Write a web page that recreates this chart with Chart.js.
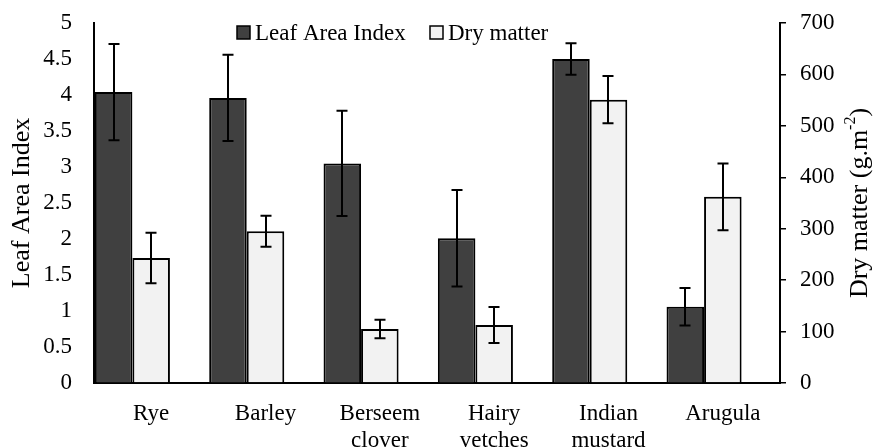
<!DOCTYPE html>
<html>
<head>
<meta charset="utf-8">
<script src="https://cdn.jsdelivr.net/npm/chart.js@4"></script>
<style>
html,body{margin:0;padding:0;background:#fff;}
#wrap{width:875px;height:448px;}
</style>
</head>
<body>
<div id="wrap"><canvas id="c" width="875" height="448"></canvas></div>
<script>
const categories = ['Rye', 'Barley', ['Berseem', 'clover'], ['Hairy', 'vetches'], ['Indian', 'mustard'], 'Arugula'];
const laiValues = [4.04, 3.96, 3.05, 2.01, 4.50, 1.06];
const laiErrors = [0.67, 0.60, 0.73, 0.67, 0.22, 0.26];
const dmValues = [243, 295, 105, 113, 551, 362];
const dmErrors = [49, 30, 18, 35, 46, 65];
const laiTicks = { min: 0, max: 5, step: 0.5 };
const dmTicks = { min: 0, max: 700, step: 100 };
const seriesNames = ['Leaf Area Index', 'Dry matter'];
const axisTitles = ['Leaf Area Index', 'Dry matter (g.m', '-2', ')'];

const FONT = "'Liberation Serif', 'Times New Roman', serif";
const errs = [laiErrors, dmErrors];

const errorBars = {
  id: 'errorBars',
  afterDatasetsDraw(chart) {
    const ctx = chart.ctx;
    ctx.save();
    ctx.strokeStyle = '#000';
    ctx.lineWidth = 2;
    [0, 1].forEach(di => {
      const ds = chart.data.datasets[di];
      const meta = chart.getDatasetMeta(di);
      const scale = chart.scales[ds.yAxisID];
      meta.data.forEach((el, j) => {
        const v = ds.data[j], e = errs[di][j];
        const x = Math.round(el.x);
        const yt = scale.getPixelForValue(v + e);
        const yb = scale.getPixelForValue(v - e);
        ctx.beginPath();
        ctx.moveTo(x, yt); ctx.lineTo(x, yb);
        ctx.moveTo(x - 5.5, yt); ctx.lineTo(x + 5.5, yt);
        ctx.moveTo(x - 5.5, yb); ctx.lineTo(x + 5.5, yb);
        ctx.stroke();
      });
    });
    ctx.restore();
  },
  afterDraw(chart) {
    const ctx = chart.ctx;
    const ca = chart.chartArea;
    ctx.save();
    const items = [
      { sx: 237, tx: 255, ds: chart.data.datasets[0] },
      { sx: 430, tx: 448, ds: chart.data.datasets[1] }
    ];
    ctx.font = '23px ' + FONT;
    ctx.textBaseline = 'alphabetic';
    ctx.textAlign = 'left';
    items.forEach(it => {
      ctx.fillStyle = it.ds.backgroundColor;
      ctx.fillRect(it.sx, 26, 13, 13);
      ctx.strokeStyle = '#000';
      ctx.lineWidth = 1.5;
      ctx.strokeRect(it.sx, 26, 13, 13);
      ctx.fillStyle = '#000';
      ctx.fillText(it.ds.label, it.tx, 39.5);
    });
    const cy = (ca.top + ca.bottom) / 2;
    ctx.fillStyle = '#000';
    ctx.font = '26px ' + FONT;
    ctx.save();
    ctx.translate(22, cy);
    ctx.rotate(-Math.PI / 2);
    ctx.textAlign = 'center';
    ctx.textBaseline = 'middle';
    ctx.fillText(axisTitles[0], 0, 0);
    ctx.restore();

    ctx.save();
    ctx.translate(860, cy);
    ctx.rotate(-Math.PI / 2);
    ctx.textBaseline = 'middle';
    ctx.textAlign = 'left';
    ctx.font = '26px ' + FONT;
    const w1 = ctx.measureText(axisTitles[1]).width;
    const w3 = ctx.measureText(axisTitles[3]).width;
    ctx.font = '16px ' + FONT;
    const w2 = ctx.measureText(axisTitles[2]).width;
    const total = w1 + w2 + w3;
    let x0 = -total / 2;
    ctx.font = '26px ' + FONT;
    ctx.fillText(axisTitles[1], x0, 0);
    ctx.font = '16px ' + FONT;
    ctx.fillText(axisTitles[2], x0 + w1, -9);
    ctx.font = '26px ' + FONT;
    ctx.fillText(axisTitles[3], x0 + w1 + w2, 0);
    ctx.restore();
    ctx.restore();
  }
};

new Chart(document.getElementById('c'), {
  type: 'bar',
  data: {
    labels: categories,
    datasets: [
      { label: seriesNames[0], data: laiValues, yAxisID: 'y', backgroundColor: '#404040', borderColor: '#000', borderWidth: 2 },
      { label: seriesNames[1], data: dmValues, yAxisID: 'y1', backgroundColor: '#F2F2F2', borderColor: '#000', borderWidth: 2 },
      { label: '', data: categories.map(() => null), yAxisID: 'y', backgroundColor: 'rgba(0,0,0,0)', borderWidth: 0 }
    ]
  },
  options: {
    responsive: false,
    animation: false,
    devicePixelRatio: 1,
    layout: { padding: { top: 23, left: 0, right: 0, bottom: 0 } },
    datasets: { bar: { categoryPercentage: 0.985, barPercentage: 1.0 } },
    plugins: { legend: { display: false }, tooltip: { enabled: false } },
    scales: {
      x: {
        grid: { drawOnChartArea: false, drawTicks: false },
        border: { color: '#000', width: 2 },
        ticks: { color: '#000', font: { family: FONT, size: 23, lineHeight: 1.2 }, padding: 17, maxRotation: 0, autoSkip: false },
        afterFit(s) { s.height = 65; }
      },
      y: {
        position: 'left',
        min: laiTicks.min, max: laiTicks.max,
        grid: { drawOnChartArea: false, drawTicks: true, tickLength: 19, tickColor: 'rgba(0,0,0,0)' },
        border: { color: '#000', width: 2 },
        ticks: { stepSize: laiTicks.step, color: '#000', font: { family: FONT, size: 23, lineHeight: 0.6 }, padding: 3,
                 callback: v => String(Math.round(v * 10) / 10) },
        afterFit(s) { s.width = 94; }
      },
      y1: {
        position: 'right',
        min: dmTicks.min, max: dmTicks.max,
        grid: { drawOnChartArea: false, drawTicks: true, tickLength: 6, color: '#000', lineWidth: 1.5 },
        border: { color: '#000', width: 2 },
        ticks: { stepSize: dmTicks.step, color: '#000', font: { family: FONT, size: 23, lineHeight: 0.6 }, padding: 14,
                 callback: v => String(Math.round(v)) },
        afterFit(s) { s.width = 95; }
      }
    }
  },
  plugins: [errorBars]
});
</script>
</body>
</html>
